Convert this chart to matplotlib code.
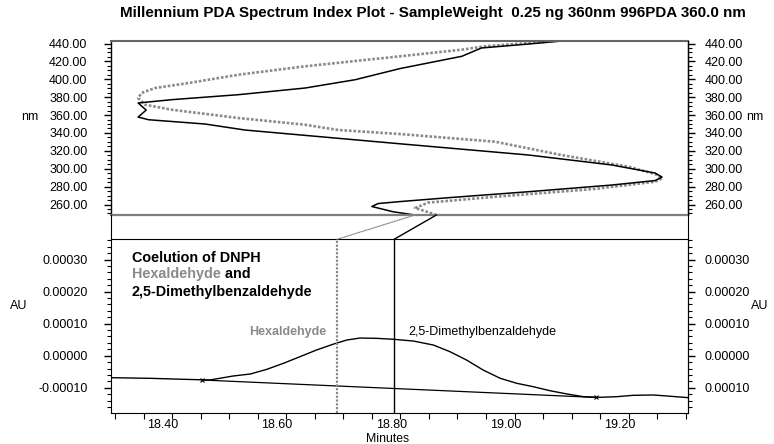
import matplotlib
matplotlib.use("Agg")
import matplotlib.pyplot as plt
from matplotlib.ticker import MultipleLocator, FormatStrFormatter, FuncFormatter
from matplotlib.patches import ConnectionPatch

plt.rcParams['font.family'] = ['Liberation Sans', 'DejaVu Sans']

# ---------------- data ----------------
title = "Millennium PDA Spectrum Index Plot - SampleWeight  0.25 ng 360nm 996PDA 360.0 nm"

# Spectrum (solid black): wavelength (nm) and relative absorbance (0..1 of panel width)
spec_black_nm = [248.3, 251.9, 257.8, 261.1, 263.3, 267.8, 274.3, 281.8, 286.8, 290.7, 295.2,
                 304.2, 315.4, 328.4, 343.3, 350.0, 354.8, 357.8, 365.6, 373.5, 377.2, 382.8,
                 390.2, 399.5, 412.0, 425.7, 435.0, 439.4, 442.8]
spec_black_abs = [0.527, 0.489, 0.452, 0.463, 0.501, 0.588, 0.723, 0.868, 0.943, 0.955, 0.943,
                  0.868, 0.723, 0.492, 0.232, 0.163, 0.065, 0.047, 0.061, 0.047, 0.105, 0.221,
                  0.336, 0.423, 0.501, 0.608, 0.642, 0.723, 0.781]

# Spectrum (dotted grey)
spec_grey_nm = [248.3, 252.7, 256.1, 262.2, 268.7, 277.5, 285.5, 289.3, 294.1, 302.3, 315.3,
                330.2, 338.8, 343.3, 349.2, 356.7, 366.0, 371.6, 379.1, 384.7, 390.2, 395.8,
                405.1, 414.5, 425.7, 433.1, 436.9, 442.8]
spec_grey_abs = [0.564, 0.544, 0.527, 0.550, 0.666, 0.839, 0.943, 0.955, 0.943, 0.897, 0.781,
                 0.666, 0.501, 0.394, 0.336, 0.221, 0.105, 0.059, 0.047, 0.053, 0.076, 0.134,
                 0.221, 0.336, 0.501, 0.608, 0.648, 0.770]

# Chromatogram (minutes, AU)
chrom_t = [18.309, 18.377, 18.436, 18.482, 18.523, 18.553, 18.582, 18.611, 18.640, 18.669,
           18.699, 18.722, 18.745, 18.775, 18.805, 18.839, 18.874, 18.903, 18.932, 18.961,
           18.991, 19.020, 19.049, 19.078, 19.108, 19.137, 19.166, 19.195, 19.224, 19.259,
           19.283, 19.321]
chrom_au = [-0.685e-4, -0.704e-4, -0.735e-4, -0.757e-4, -0.632e-4, -0.570e-4, -0.424e-4,
            -0.237e-4, -0.031e-4, 0.178e-4, 0.364e-4, 0.489e-4, 0.551e-4, 0.542e-4, 0.511e-4,
            0.458e-4, 0.333e-4, 0.125e-4, -0.134e-4, -0.445e-4, -0.704e-4, -0.860e-4,
            -0.966e-4, -1.090e-4, -1.193e-4, -1.277e-4, -1.296e-4, -1.277e-4, -1.234e-4,
            -1.224e-4, -1.255e-4, -1.308e-4]

# integration baseline (drop line) endpoints
base_t = [18.469, 19.158]
base_au = [-0.757e-4, -1.300e-4]

cursor_hex = 18.705   # Hexaldehyde (grey dotted)
cursor_dmb = 18.805   # 2,5-Dimethylbenzaldehyde (black)

x_range = (18.309, 19.320)
nm_range = (248.3, 442.8)
au_range = (-0.000177, 0.000363)

# ---------------- layout ----------------
W, H = 774, 444
fig = plt.figure(figsize=(W / 100, H / 100), dpi=100)
GREY = '#8a8a8a'

L, R = 111, 688
def rect(top, bottom):
    return [L / W, 1 - bottom / H, (R - L) / W, (bottom - top) / H]

ax_top = fig.add_axes(rect(41, 215))
ax_mid = fig.add_axes(rect(215, 239.3))
ax_bot = fig.add_axes(rect(239.3, 412.5))

# ---- top spectrum panel ----
ax_top.plot(spec_grey_abs, spec_grey_nm, color=GREY, lw=1.9, ls=(0, (1.0, 0.7)))
ax_top.plot(spec_black_abs, spec_black_nm, color='black', lw=1.1)
ax_top.set_xlim(0, 1)
ax_top.set_ylim(*nm_range)
ax_top.set_xticks([])
ax_top.yaxis.set_major_locator(MultipleLocator(20))
ax_top.yaxis.set_minor_locator(MultipleLocator(5))
ax_top.yaxis.set_major_formatter(FormatStrFormatter('%.2f'))
ax_top.tick_params(axis='y', which='major', length=5, width=1.0, labelsize=9, pad=12, direction='out')
ax_top.tick_params(axis='y', which='minor', length=3, width=0.8, direction='out')
ax_top.spines['top'].set_color('#666666')
ax_top.spines['top'].set_linewidth(1.5)
ax_top.spines['bottom'].set_color('#7f7f7f')
ax_top.spines['bottom'].set_linewidth(1.6)
for s in ('left', 'right'):
    ax_top.spines[s].set_linewidth(1.0)

ax_top_r = ax_top.twinx()
ax_top_r.set_ylim(*nm_range)
ax_top_r.yaxis.set_major_locator(MultipleLocator(20))
ax_top_r.yaxis.set_minor_locator(MultipleLocator(5))
ax_top_r.yaxis.set_major_formatter(FormatStrFormatter('%.2f'))
ax_top_r.tick_params(axis='y', which='major', length=5, width=1.0, labelsize=9, pad=7, direction='out')
ax_top_r.tick_params(axis='y', which='minor', length=3, width=0.8, direction='out')
for s in ('top', 'bottom', 'left'):
    ax_top_r.spines[s].set_visible(False)

# ---- middle band ----
ax_mid.set_xlim(0, 1)
ax_mid.set_ylim(0, 1)
ax_mid.set_xticks([])
ax_mid.set_yticks([])
ax_mid.patch.set_alpha(0)
ax_mid.spines['top'].set_visible(False)
ax_mid.spines['bottom'].set_visible(False)

# ---- chromatogram panel ----
ax_bot.plot(chrom_t, chrom_au, color='black', lw=1.0)
ax_bot.plot(base_t, base_au, color='black', lw=0.9)
ax_bot.plot(base_t, base_au, ls='none', marker='x', ms=3.5, mew=0.8, color='black')
ax_bot.axvline(cursor_hex, color=GREY, lw=1.6, ls=(0, (1.0, 0.7)))
ax_bot.axvline(cursor_dmb, color='black', lw=1.0)
ax_bot.set_xlim(*x_range)
ax_bot.set_ylim(*au_range)

ax_bot.xaxis.set_major_locator(MultipleLocator(0.2))
ax_bot.xaxis.set_major_formatter(FormatStrFormatter('%.2f'))
ax_bot.xaxis.set_minor_locator(MultipleLocator(0.05, offset=0.016))
ax_bot.tick_params(axis='x', which='major', length=0, labelsize=9, pad=5)
ax_bot.tick_params(axis='x', which='minor', length=4, width=0.8, direction='out')
ax_bot.yaxis.set_major_locator(MultipleLocator(0.0001))
ax_bot.yaxis.set_minor_locator(MultipleLocator(0.00002))
ax_bot.yaxis.set_major_formatter(FormatStrFormatter('%.5f'))
ax_bot.tick_params(axis='y', which='major', length=5, width=1.0, labelsize=9, pad=12, direction='out')
ax_bot.tick_params(axis='y', which='minor', length=3, width=0.8, direction='out')

ax_bot_r = ax_bot.twinx()
ax_bot_r.set_ylim(*au_range)
ax_bot_r.yaxis.set_major_locator(MultipleLocator(0.0001))
ax_bot_r.yaxis.set_minor_locator(MultipleLocator(0.00002))
ax_bot_r.yaxis.set_major_formatter(FuncFormatter(lambda v, p: '%.5f' % abs(v)))
ax_bot_r.tick_params(axis='y', which='major', length=5, width=1.0, labelsize=9, pad=7, direction='out')
ax_bot_r.tick_params(axis='y', which='minor', length=3, width=0.8, direction='out')
for s in ('top', 'bottom', 'left'):
    ax_bot_r.spines[s].set_visible(False)

# connectors from cursor lines to spectrum start points
con1 = ConnectionPatch(xyA=(cursor_hex, 1.0), coordsA=ax_bot.get_xaxis_transform(),
                       xyB=(spec_black_abs[0], spec_black_nm[0]), coordsB=ax_top.transData,
                       color=GREY, lw=0.9, ls=(0, (1, 1)))
con2 = ConnectionPatch(xyA=(cursor_dmb, 1.0), coordsA=ax_bot.get_xaxis_transform(),
                       xyB=(spec_grey_abs[0], spec_grey_nm[0]), coordsB=ax_top.transData,
                       color='black', lw=1.0)
fig.add_artist(con1)
fig.add_artist(con2)

# annotations in chromatogram
tx = 0.0359
ax_bot.text(tx, 0.890, 'Coelution of DNPH', transform=ax_bot.transAxes,
            fontsize=10.4, fontweight='bold', va='center', ha='left')
t2 = ax_bot.text(tx, 0.800, 'Hexaldehyde', transform=ax_bot.transAxes, color=GREY,
                 fontsize=10.4, fontweight='bold', va='center', ha='left')
ax_bot.annotate(' and', xy=(1, 0), xycoords=t2, va='bottom', ha='left',
                fontsize=10.4, fontweight='bold', color='black')
ax_bot.text(tx, 0.697, '2,5-Dimethylbenzaldehyde', transform=ax_bot.transAxes,
            fontsize=10.4, fontweight='bold', va='center', ha='left')

ax_bot.text(18.687, 0.463, 'Hexaldehyde', transform=ax_bot.get_xaxis_transform(),
            color=GREY, fontsize=9, fontweight='bold', ha='right', va='center')
ax_bot.text(18.830, 0.465, '2,5-Dimethylbenzaldehyde', transform=ax_bot.get_xaxis_transform(),
            color='black', fontsize=9, ha='left', va='center')

# figure texts
fig.text(120 / W, 1 - 13 / H, title, fontsize=10.9, fontweight='bold', ha='left', va='center')
fig.text(30 / W, 1 - 117 / H, 'nm', fontsize=9, ha='center', va='center')
fig.text(755 / W, 1 - 117 / H, 'nm', fontsize=9, ha='center', va='center')
fig.text(19 / W, 1 - 306 / H, 'AU', fontsize=9, ha='center', va='center')
fig.text(760 / W, 1 - 306 / H, 'AU', fontsize=9, ha='center', va='center')
fig.text(388 / W, 1 - 438.5 / H, 'Minutes', fontsize=8.8, ha='center', va='center')

fig.savefig('out.png', dpi=100)
